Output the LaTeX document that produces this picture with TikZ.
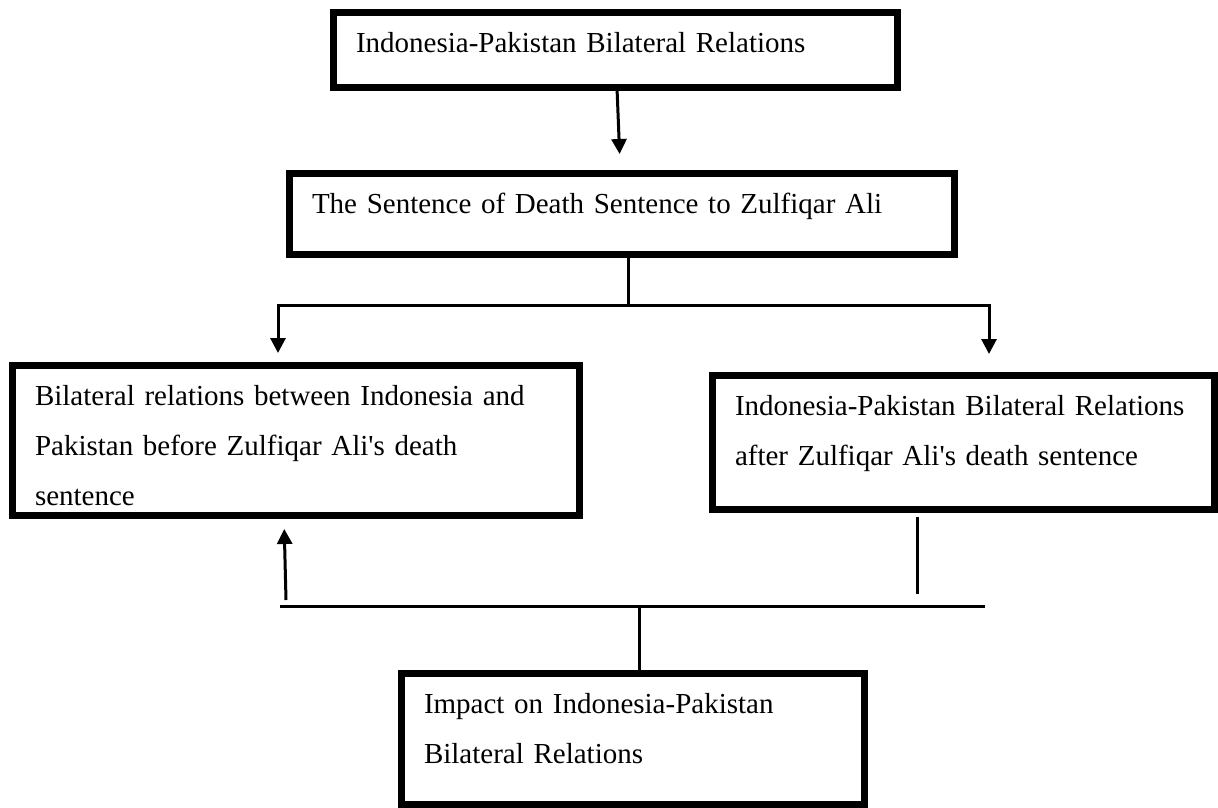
\documentclass[tikz,border=0pt]{standalone}
\usepackage{fontspec}
\setmainfont{Liberation Serif}
\usetikzlibrary{arrows.meta}
\begin{document}
\begin{tikzpicture}[x=1pt, y=-1pt,
    rbox/.style={draw, line width=7pt, anchor=north west, inner xsep=22.5pt, inner ysep=0pt,
      align=left, text height=40pt, font=\fontsize{29}{50}\selectfont},
    link/.style={line width=3pt},
    arr/.style={line width=3pt, -{Triangle[width=15pt,length=15pt]}}]
                \useasboundingbox (0,0) rectangle (1218,808);

                \node[rbox, text width=519pt, text depth=35pt] (top) at (330,9) {Indonesia-Pakistan Bilateral Relations};
                \node[rbox, text width=620pt, text depth=41pt] (death) at (286,170) {The Sentence of Death Sentence to Zulfiqar Ali};
                \node[rbox, text width=522pt, text depth=110pt] (before) at (9,362) {Bilateral relations between Indonesia and\\Pakistan before Zulfiqar Ali\textquotesingle s death\\sentence};
                \node[rbox, text width=457pt, text depth=94pt] (after) at (709,372) {Indonesia-Pakistan Bilateral Relations\\after Zulfiqar Ali\textquotesingle s death sentence};
                \node[rbox, text width=418pt, text depth=91pt] (impact) at (398,670) {Impact on Indonesia-Pakistan\\Bilateral Relations};

                \coordinate (split) at (628,305);
                \coordinate (splitL) at (278,305);
                \coordinate (splitR) at (989,305);
                \coordinate (join) at (639,606);
                \coordinate (joinL) at (280,606);
                \coordinate (joinR) at (985,606);
                \coordinate (upfoot) at (286,600);
                \coordinate (rightfoot) at (917,594);

                \draw[arr, shorten >=16pt] (top) -- (death);
                \draw[link] (death.south -| split) -- (split);
                \draw[arr, shorten >=9pt] (split) -- (splitL) -- (splitL |- before.north);
                \draw[arr, shorten >=18pt] (split) -- (splitR) -- (splitR |- after.north);

                \draw[link] (joinL) -- (joinR);
                \draw[link] (join) -- (impact.north -| join);
                \draw[arr, shorten >=10pt] (upfoot) -- ([xshift=-2pt]upfoot |- before.south);
                \draw[link, shorten >=4pt] (rightfoot) -- (rightfoot |- after.south);
            \end{tikzpicture}
\end{document}
